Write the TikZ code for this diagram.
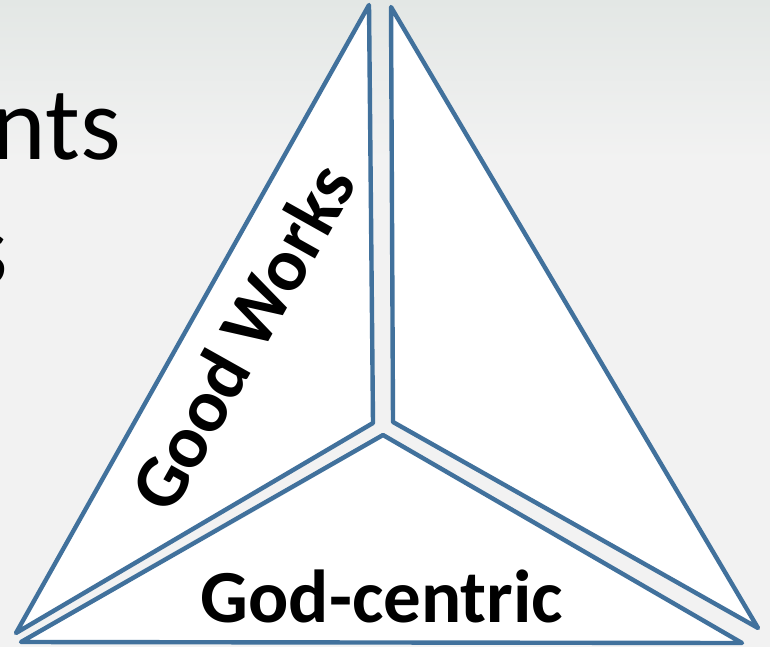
\documentclass[tikz,border=0pt]{standalone}
\usepackage{fontspec}
\setmainfont{Carlito}
\definecolor{edgeblue}{HTML}{41719C}
\definecolor{bgtop}{HTML}{E3E7E5}
\definecolor{bgmid}{HTML}{F2F2F2}

\begin{document}
\begin{tikzpicture}[x=1pt, y=-1pt,
            tri/.style={draw=edgeblue, line width=4.4pt, fill=white, line join=round},
            lbl/.style={font=\fontsize{75}{75}\selectfont\bfseries, inner sep=0pt},
            bigtxt/.style={font=\fontsize{104}{104}\selectfont, inner sep=0pt}
        ]
            \useasboundingbox (0,0) rectangle (770,647);
            \clip (0,0) rectangle (770,647);
            \fill[bgmid] (0,0) rectangle (770,647);
            \shade[top color=bgtop, bottom color=bgmid] (0,0) rectangle (770,160);

            % partial slide text on the left
            \node[bigtxt, anchor=base east] (nts) at (121,160) {nts};
            \node[bigtxt, anchor=base east] (s) at (8,284) {s};

            % corners of the three pieces
            \coordinate (la) at (369,5);
            \coordinate (lb) at (373,423);
            \coordinate (lc) at (16,633);
            \coordinate (ra) at (391,7);
            \coordinate (rb) at (393,422);
            \coordinate (rc) at (758,628);
            \coordinate (ba) at (383,435);
            \coordinate (bb) at (21,642);
            \coordinate (bc) at (742,643);

            \draw[tri] (la) -- (lb) -- (lc) -- cycle;
            \draw[tri] (ra) -- (rb) -- (rc) -- cycle;
            \draw[tri] (ba) -- (bb) -- (bc) -- cycle;

            \node[lbl, rotate=60.7] (works) at (242,337) {Good Works};
            \node[lbl, anchor=base] (centric) at (382,622) {God-centric};
        \end{tikzpicture}
\end{document}
